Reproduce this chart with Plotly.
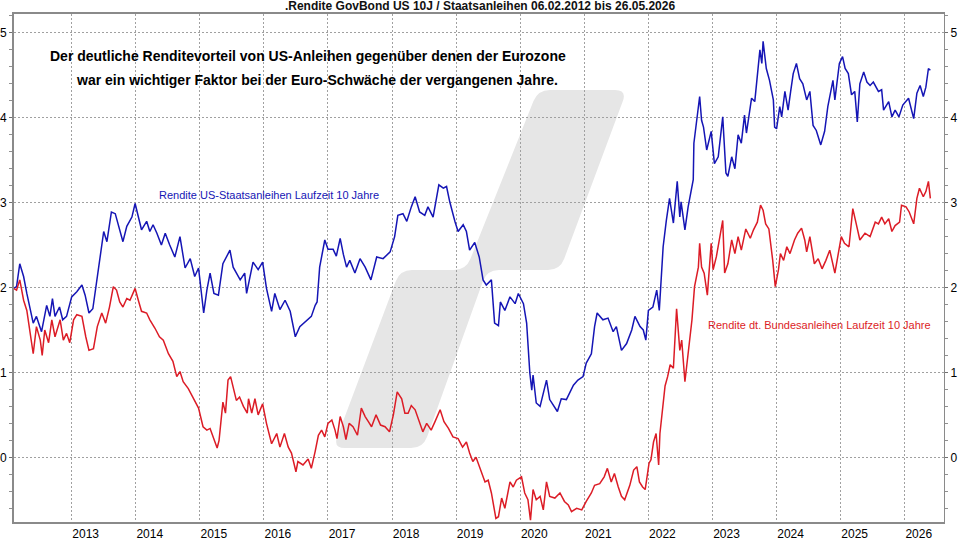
import plotly.graph_objects as go

# ---------------- data (decimal year, yield in %) ----------------
us_year = [2012.09, 2012.14, 2012.19, 2012.25, 2012.30, 2012.35, 2012.40, 2012.45, 2012.53, 2012.61,
           2012.66, 2012.70, 2012.74, 2012.81, 2012.86, 2012.92, 2013.00, 2013.08, 2013.16, 2013.21,
           2013.27, 2013.33, 2013.40, 2013.47, 2013.50, 2013.55, 2013.62, 2013.68, 2013.73, 2013.80,
           2013.86, 2013.94, 2013.99, 2014.04, 2014.09, 2014.17, 2014.22, 2014.27, 2014.33, 2014.40,
           2014.46, 2014.53, 2014.61, 2014.69, 2014.77, 2014.85, 2014.92, 2014.98, 2015.06, 2015.11,
           2015.16, 2015.22, 2015.29, 2015.36, 2015.47, 2015.52, 2015.63, 2015.70, 2015.73, 2015.83,
           2015.91, 2015.98, 2016.04, 2016.12, 2016.17, 2016.25, 2016.33, 2016.41, 2016.49, 2016.56,
           2016.67, 2016.74, 2016.80, 2016.83, 2016.87, 2016.95, 2017.00, 2017.08, 2017.13, 2017.19,
           2017.24, 2017.29, 2017.34, 2017.42, 2017.50, 2017.58, 2017.67, 2017.76, 2017.86, 2017.97,
           2018.04, 2018.09, 2018.17, 2018.23, 2018.30, 2018.36, 2018.43, 2018.51, 2018.56, 2018.64,
           2018.73, 2018.80, 2018.85, 2018.90, 2018.98, 2019.03, 2019.11, 2019.16, 2019.21, 2019.29,
           2019.36, 2019.42, 2019.47, 2019.55, 2019.60, 2019.66, 2019.69, 2019.76, 2019.84, 2019.92,
           2019.97, 2020.05, 2020.10, 2020.15, 2020.18, 2020.20, 2020.25, 2020.31, 2020.41, 2020.46,
           2020.58, 2020.64, 2020.72, 2020.83, 2020.90, 2020.98, 2021.03, 2021.11, 2021.16, 2021.20,
           2021.29, 2021.37, 2021.45, 2021.50, 2021.58, 2021.66, 2021.74, 2021.79, 2021.87, 2021.92,
           2021.96, 2022.00, 2022.07, 2022.13, 2022.17, 2022.20, 2022.23, 2022.28, 2022.33, 2022.39,
           2022.45, 2022.49, 2022.51, 2022.57, 2022.62, 2022.70, 2022.71, 2022.80, 2022.83, 2022.86,
           2022.91, 2022.98, 2023.03, 2023.09, 2023.16, 2023.21, 2023.24, 2023.30, 2023.35, 2023.40,
           2023.45, 2023.50, 2023.53, 2023.61, 2023.66, 2023.74, 2023.77, 2023.79, 2023.84, 2023.89,
           2023.95, 2023.97, 2024.00, 2024.05, 2024.08, 2024.13, 2024.18, 2024.22, 2024.26, 2024.31,
           2024.36, 2024.41, 2024.47, 2024.52, 2024.57, 2024.62, 2024.69, 2024.75, 2024.80, 2024.88,
           2024.91, 2024.98, 2025.03, 2025.07, 2025.12, 2025.17, 2025.22, 2025.26, 2025.30, 2025.36,
           2025.41, 2025.46, 2025.51, 2025.59, 2025.64, 2025.67, 2025.75, 2025.80, 2025.85, 2025.91,
           2025.97, 2026.06, 2026.14, 2026.19, 2026.24, 2026.29, 2026.33, 2026.37, 2026.40]
us_yield = [1.99, 2.01, 2.28, 2.13, 1.93, 1.77, 1.58, 1.66, 1.48, 1.79,
            1.66, 1.87, 1.66, 1.77, 1.62, 1.66, 1.89, 1.95, 2.03, 1.91,
            1.70, 1.75, 2.11, 2.48, 2.66, 2.54, 2.89, 2.87, 2.72, 2.54,
            2.72, 2.83, 2.99, 2.83, 2.68, 2.78, 2.66, 2.74, 2.64, 2.50,
            2.64, 2.50, 2.36, 2.60, 2.23, 2.34, 2.13, 2.23, 1.70, 1.97,
            2.17, 1.93, 1.91, 2.28, 2.44, 2.24, 2.09, 2.17, 1.93, 2.30,
            2.21, 2.30, 1.99, 1.72, 1.93, 1.74, 1.85, 1.72, 1.42, 1.54,
            1.62, 1.66, 1.79, 1.83, 2.24, 2.56, 2.45, 2.45, 2.37, 2.58,
            2.39, 2.24, 2.32, 2.17, 2.34, 2.24, 2.09, 2.36, 2.34, 2.42,
            2.60, 2.85, 2.87, 2.78, 2.95, 3.07, 2.89, 2.85, 2.95, 2.83,
            3.21, 3.17, 3.19, 3.01, 2.78, 2.66, 2.74, 2.66, 2.44, 2.53,
            2.36, 2.09, 2.03, 2.09, 1.58, 1.55, 1.83, 1.73, 1.89, 1.81,
            1.93, 1.81, 1.58, 0.99, 0.79, 0.97, 0.64, 0.60, 0.91, 0.68,
            0.54, 0.69, 0.68, 0.85, 0.91, 0.95, 1.11, 1.22, 1.54, 1.70,
            1.62, 1.64, 1.48, 1.54, 1.26, 1.34, 1.50, 1.66, 1.54, 1.50,
            1.38, 1.73, 1.77, 1.97, 1.73, 2.13, 2.48, 2.79, 3.05, 2.76,
            3.25, 2.83, 3.01, 2.68, 2.95, 3.27, 3.70, 4.25, 3.97, 3.89,
            3.62, 3.84, 3.46, 3.54, 4.01, 3.35, 3.31, 3.54, 3.40, 3.80,
            3.70, 4.03, 3.82, 4.23, 4.19, 4.80, 4.64, 4.90, 4.58, 4.44,
            4.21, 3.89, 3.87, 4.13, 4.01, 4.31, 4.09, 4.31, 4.52, 4.64,
            4.46, 4.40, 4.21, 4.31, 3.91, 3.85, 3.68, 3.84, 4.13, 4.44,
            4.21, 4.64, 4.72, 4.58, 4.52, 4.27, 4.31, 3.95, 4.40, 4.54,
            4.42, 4.38, 4.42, 4.31, 4.33, 4.09, 4.19, 4.01, 4.09, 4.01,
            4.15, 4.23, 3.99, 4.29, 4.38, 4.25, 4.36, 4.58, 4.56]

de_year = [2012.09, 2012.14, 2012.19, 2012.25, 2012.30, 2012.35, 2012.40, 2012.45, 2012.51, 2012.54,
           2012.58, 2012.64, 2012.69, 2012.74, 2012.82, 2012.87, 2012.92, 2012.97, 2013.03, 2013.08,
           2013.16, 2013.22, 2013.27, 2013.34, 2013.40, 2013.47, 2013.53, 2013.59, 2013.65, 2013.70,
           2013.75, 2013.80, 2013.86, 2013.91, 2013.99, 2014.04, 2014.09, 2014.17, 2014.22, 2014.30,
           2014.37, 2014.43, 2014.51, 2014.58, 2014.64, 2014.69, 2014.74, 2014.82, 2014.90, 2014.98,
           2015.05, 2015.11, 2015.16, 2015.22, 2015.27, 2015.30, 2015.36, 2015.40, 2015.44, 2015.48,
           2015.53, 2015.57, 2015.62, 2015.68, 2015.74, 2015.76, 2015.81, 2015.86, 2015.91, 2015.98,
           2016.04, 2016.12, 2016.20, 2016.25, 2016.32, 2016.38, 2016.43, 2016.50, 2016.53, 2016.61,
           2016.69, 2016.74, 2016.80, 2016.85, 2016.90, 2016.95, 2017.00, 2017.06, 2017.11, 2017.14,
           2017.19, 2017.24, 2017.28, 2017.33, 2017.39, 2017.46, 2017.52, 2017.58, 2017.63, 2017.68,
           2017.75, 2017.82, 2017.89, 2017.96, 2018.02, 2018.08, 2018.15, 2018.20, 2018.25, 2018.30,
           2018.36, 2018.41, 2018.48, 2018.54, 2018.61, 2018.67, 2018.75, 2018.81, 2018.88, 2018.95,
           2019.03, 2019.10, 2019.16, 2019.21, 2019.26, 2019.31, 2019.36, 2019.45, 2019.50, 2019.55,
           2019.62, 2019.66, 2019.71, 2019.76, 2019.84, 2019.89, 2019.94, 2020.02, 2020.07, 2020.12,
           2020.16, 2020.20, 2020.25, 2020.31, 2020.36, 2020.41, 2020.46, 2020.54, 2020.62, 2020.69,
           2020.75, 2020.80, 2020.88, 2020.96, 2021.03, 2021.11, 2021.16, 2021.24, 2021.31, 2021.36,
           2021.42, 2021.47, 2021.53, 2021.58, 2021.63, 2021.71, 2021.77, 2021.82, 2021.86, 2021.91,
           2021.95, 2022.01, 2022.04, 2022.08, 2022.12, 2022.16, 2022.18, 2022.22, 2022.26, 2022.30,
           2022.34, 2022.39, 2022.44, 2022.49, 2022.52, 2022.57, 2022.62, 2022.68, 2022.72, 2022.78,
           2022.80, 2022.83, 2022.87, 2022.92, 2022.98, 2023.01, 2023.06, 2023.16, 2023.19, 2023.24,
           2023.30, 2023.35, 2023.40, 2023.45, 2023.52, 2023.59, 2023.64, 2023.70, 2023.75, 2023.79,
           2023.83, 2023.88, 2023.94, 2023.98, 2024.03, 2024.06, 2024.11, 2024.16, 2024.21, 2024.28,
           2024.33, 2024.39, 2024.44, 2024.47, 2024.52, 2024.59, 2024.65, 2024.71, 2024.77, 2024.83,
           2024.91, 2024.96, 2025.01, 2025.06, 2025.13, 2025.19, 2025.24, 2025.30, 2025.38, 2025.46,
           2025.54, 2025.59, 2025.64, 2025.69, 2025.75, 2025.80, 2025.85, 2025.92, 2025.95, 2026.02,
           2026.07, 2026.14, 2026.19, 2026.23, 2026.29, 2026.33, 2026.37, 2026.40]
de_yield = [1.99, 1.97, 2.09, 1.85, 1.73, 1.50, 1.22, 1.54, 1.38, 1.20,
            1.50, 1.35, 1.62, 1.42, 1.62, 1.38, 1.46, 1.35, 1.62, 1.68,
            1.66, 1.42, 1.26, 1.28, 1.54, 1.70, 1.58, 1.77, 2.01, 1.97,
            1.83, 1.77, 1.87, 1.85, 1.99, 1.85, 1.72, 1.70, 1.62, 1.52,
            1.42, 1.38, 1.22, 1.13, 0.95, 1.01, 0.89, 0.81, 0.69, 0.58,
            0.36, 0.32, 0.34, 0.22, 0.11, 0.20, 0.65, 0.52, 0.91, 0.95,
            0.79, 0.67, 0.71, 0.60, 0.52, 0.69, 0.52, 0.69, 0.50, 0.63,
            0.40, 0.16, 0.28, 0.12, 0.28, 0.12, 0.05, -0.17, -0.05, -0.09,
            -0.02, -0.13, 0.07, 0.26, 0.32, 0.24, 0.40, 0.44, 0.32, 0.22,
            0.48, 0.36, 0.21, 0.40, 0.36, 0.26, 0.58, 0.48, 0.42, 0.36,
            0.50, 0.38, 0.36, 0.30, 0.50, 0.77, 0.69, 0.52, 0.52, 0.61,
            0.56, 0.44, 0.30, 0.40, 0.32, 0.42, 0.56, 0.42, 0.34, 0.24,
            0.22, 0.12, 0.18, 0.05, -0.05, 0.00, -0.11, -0.29, -0.27, -0.42,
            -0.72, -0.70, -0.48, -0.60, -0.29, -0.35, -0.27, -0.23, -0.42, -0.50,
            -0.74, -0.38, -0.50, -0.46, -0.62, -0.29, -0.46, -0.48, -0.42, -0.52,
            -0.56, -0.64, -0.60, -0.62, -0.52, -0.42, -0.33, -0.31, -0.23, -0.13,
            -0.29, -0.19, -0.35, -0.46, -0.50, -0.33, -0.15, -0.11, -0.29, -0.35,
            -0.38, -0.07, -0.03, 0.18, 0.28, -0.09, 0.28, 0.60, 0.84, 0.95,
            1.09, 1.05, 1.75, 1.26, 1.38, 0.89, 1.22, 1.62, 2.01, 2.24,
            2.52, 2.24, 2.17, 1.91, 2.52, 2.21, 2.36, 2.79, 2.17, 2.28,
            2.56, 2.40, 2.60, 2.44, 2.69, 2.58, 2.68, 2.77, 2.97, 2.91,
            2.75, 2.69, 2.32, 2.01, 2.21, 2.40, 2.32, 2.48, 2.40, 2.56,
            2.64, 2.70, 2.56, 2.42, 2.60, 2.28, 2.34, 2.22, 2.32, 2.44,
            2.17, 2.40, 2.60, 2.52, 2.48, 2.93, 2.75, 2.56, 2.64, 2.60,
            2.77, 2.75, 2.83, 2.75, 2.81, 2.66, 2.73, 2.77, 2.97, 2.95,
            2.89, 2.75, 3.05, 3.17, 3.07, 3.13, 3.25, 3.05]

year_ticks = [2013, 2014, 2015, 2016, 2017, 2018, 2019, 2020, 2021, 2022, 2023, 2024, 2025, 2026]
year_labels = [str(y) for y in year_ticks]
yield_ticks = [0, 1, 2, 3, 4, 5]

title_text = ".Rendite GovBond US 10J / Staatsanleihen 06.02.2012 bis 26.05.2026"
note_line1 = "Der deutliche Renditevorteil von US-Anleihen gegenüber denen der Eurozone"
note_line2 = "war ein wichtiger Faktor bei der Euro-Schwäche der vergangenen Jahre."
us_label = "Rendite US-Staatsanleihen Laufzeit 10 Jahre"
de_label = "Rendite dt. Bundesanleihen Laufzeit 10 Jahre"

# ---------------- layout geometry ----------------
W, H = 960, 540
L, R, T, B = 14, 16, 14, 18
PW, PH = W - L - R, H - T - B
FONT = "Liberation Sans, Arial, sans-serif"
BLUE = "#1515b5"
RED = "#dc1c26"
GRID = "#a0a0a0"


def px(x, y):
    return (x - L) / PW, (H - B - y) / PH


def rounded_path(pts, r):
    import math
    n = len(pts)
    segs = []
    for i in range(n):
        p = pts[i]
        a = pts[i - 1]
        b = pts[(i + 1) % n]
        da = (a[0] - p[0], a[1] - p[1])
        db = (b[0] - p[0], b[1] - p[1])
        la = math.hypot(*da)
        lb = math.hypot(*db)
        ra = min(r, la / 2)
        rb = min(r, lb / 2)
        s = (p[0] + da[0] / la * ra, p[1] + da[1] / la * ra)
        e = (p[0] + db[0] / lb * rb, p[1] + db[1] / lb * rb)
        segs.append((s, p, e))
    out = []
    for i, (s, p, e) in enumerate(segs):
        sx, sy = px(*s)
        cx, cy = px(*p)
        ex, ey = px(*e)
        out.append(("M" if i == 0 else "L") + f" {sx:.4f},{sy:.4f}")
        out.append(f"Q {cx:.4f},{cy:.4f} {ex:.4f},{ey:.4f}")
    return " ".join(out) + " Z"


watermark = [(538, 90), (627, 90), (560, 270), (487, 270), (423, 448),
             (333, 448), (400, 270), (466, 270)]

fig = go.Figure()
fig.add_trace(go.Scatter(x=us_year, y=us_yield, mode="lines", name=us_label,
                         line=dict(color=BLUE, width=1.5), yaxis="y"))
fig.add_trace(go.Scatter(x=de_year, y=de_yield, mode="lines", name=de_label,
                         line=dict(color=RED, width=1.5), yaxis="y2"))

yrange = [-0.762, 5.222]
common_y = dict(range=yrange, tickvals=yield_ticks, ticks="outside", ticklen=3,
                tickcolor="#707070", showline=True, linecolor="#8a8a8a",
                zeroline=False, tickfont=dict(family=FONT, size=12, color="#000"),
                minor=dict(dtick=0.2, tick0=0, ticks="outside", ticklen=3,
                           tickcolor="#909090", showgrid=False),
                automargin=False, fixedrange=True)

fig.update_layout(
    width=W, height=H,
    margin=dict(l=L, r=R, t=T, b=B, autoexpand=False),
    paper_bgcolor="white", plot_bgcolor="white",
    showlegend=False,
    font=dict(family=FONT, color="#000"),
    title=dict(text="<b>" + title_text + "</b>", x=0.5, xanchor="center",
               y=1 - 6 / H, yanchor="middle", yref="container",
               font=dict(family=FONT, size=12, color="#111")),
    xaxis=dict(range=[2012.100, 2026.613], tickvals=year_ticks, ticktext=year_labels,
               showgrid=True, gridcolor=GRID, griddash="2px,2px", gridwidth=1,
               showline=True, linecolor="#8a8a8a", linewidth=2, mirror=True,
               ticks="", ticklabelshift=14, ticklabelstandoff=0,
               tickfont=dict(family=FONT, size=12, color="#000"), zeroline=False,
               automargin=False, fixedrange=True),
    yaxis=dict(**common_y, side="left", showgrid=True, gridcolor=GRID,
               griddash="2px,2px", gridwidth=1, linewidth=2, ticklabelstandoff=0),
    yaxis2=dict(**common_y, side="right", overlaying="y", showgrid=False,
                linewidth=1, ticklabelstandoff=0),
    shapes=[dict(type="path", xref="paper", yref="paper",
                 path=rounded_path(watermark, 12),
                 fillcolor="#e6e6e6", line=dict(width=0), layer="below")],
    annotations=[
        dict(text="<b>" + note_line1 + "</b>", xref="paper", yref="paper",
             x=px(308, 56)[0], y=px(308, 56)[1], showarrow=False,
             xanchor="center", yanchor="middle",
             font=dict(family=FONT, size=14, color="#000")),
        dict(text="<b>" + note_line2 + "</b>", xref="paper", yref="paper",
             x=px(317, 80)[0], y=px(317, 80)[1], showarrow=False,
             xanchor="center", yanchor="middle",
             font=dict(family=FONT, size=14, color="#000")),
        dict(text=us_label, xref="paper", yref="paper",
             x=px(269, 195)[0], y=px(269, 195)[1], showarrow=False,
             xanchor="center", yanchor="middle",
             font=dict(family=FONT, size=11, color=BLUE)),
        dict(text=de_label, xref="paper", yref="paper",
             x=px(819, 325)[0], y=px(819, 325)[1], showarrow=False,
             xanchor="center", yanchor="middle",
             font=dict(family=FONT, size=11, color=RED)),
    ],
)

fig.write_html("out.html")
